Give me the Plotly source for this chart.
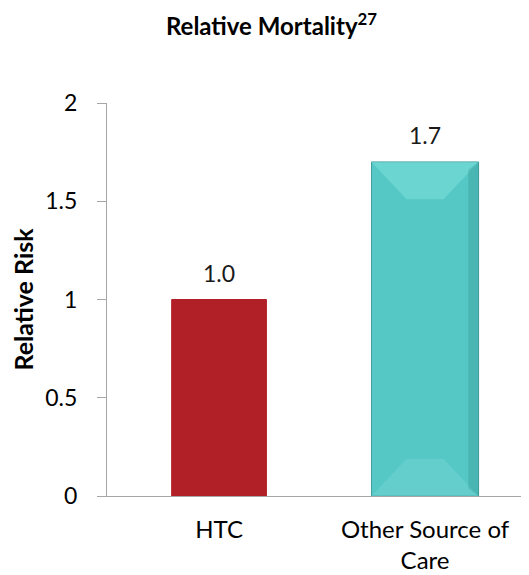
import plotly.graph_objects as go

categories = ["HTC", "Other Source of<br>Care"]
values = [1.0, 1.7]
value_labels = ["1.0", "1.7"]
colors = ["#B22027", "#55C7C4"]
tick_vals = [0, 0.5, 1, 1.5, 2]
tick_text = ["0", "0.5", "1", "1.5", "2"]

FONT = "Lato, 'Open Sans', sans-serif"
BAR_W = [0.46, 0.52]

W, H = 521, 567  # page body has an 8px margin

fig = go.Figure()
fig.add_trace(go.Bar(
    x=categories, y=values,
    marker=dict(color=colors, line=dict(color=["#B22027", "#3E9E9C"], width=1)),
    width=BAR_W,
))

# value labels above bars
for c, v, t in zip(categories, values, value_labels):
    fig.add_annotation(x=c, y=v, text=t, showarrow=False, yanchor="bottom", yshift=11,
                       font=dict(size=23, color="#1a1a1a", family=FONT))

# bevel effect on the teal bar
i = 1
v = values[i]
hw = BAR_W[i] / 2
bx = 0.17
by = 0.19
x0, x1 = i - hw, i + hw
fig.add_shape(type="path", xref="x", yref="y",
              path=f"M {x0},{v} L {x1},{v} L {x1-bx},{v-by} L {x0+bx},{v-by} Z",
              fillcolor="#86E6E2", opacity=0.45, line=dict(width=0), layer="above")
fig.add_shape(type="path", xref="x", yref="y",
              path=f"M {x0},0 L {x1},0 L {x1-bx},{by} L {x0+bx},{by} Z",
              fillcolor="#7EDDD9", opacity=0.35, line=dict(width=0), layer="above")
fig.add_shape(type="path", xref="x", yref="y",
              path=f"M {x1},{v} L {x1},0 L {x1-0.05},0.04 L {x1-0.05},{v-0.04} Z",
              fillcolor="#2F8E8C", opacity=0.3, line=dict(width=0), layer="above")

fig.update_layout(
    width=W, height=H,
    margin=dict(l=99, r=2, t=95, b=79, autoexpand=False),
    paper_bgcolor="white", plot_bgcolor="white",
    showlegend=False,
    title=dict(text="<b>Relative Mortality<sup>27</sup></b>", x=263.5 / W, xanchor="center",
               y=1 - 19 / H, yanchor="middle", font=dict(size=24, color="black", family=FONT)),
    font=dict(family=FONT, color="black"),
)
fig.update_yaxes(range=[0, 2], tickvals=tick_vals, ticktext=tick_text,
                 showgrid=False, zeroline=False, automargin=False,
                 showline=True, linecolor="#A6A6A6", linewidth=1,
                 ticks="outside", ticklen=9, tickcolor="#A6A6A6",
                 ticklabelstandoff=15,
                 tickfont=dict(size=23, color="black"),
                 title=dict(text="<b>Relative Risk</b>", font=dict(size=25, color="black"), standoff=8))
fig.update_xaxes(showline=True, linecolor="#A6A6A6", linewidth=1, automargin=False,
                 range=[-0.544, 1.495], ticklabelstandoff=12,
                 tickfont=dict(size=24, color="black"), ticks="")

fig.write_html("out.html")
